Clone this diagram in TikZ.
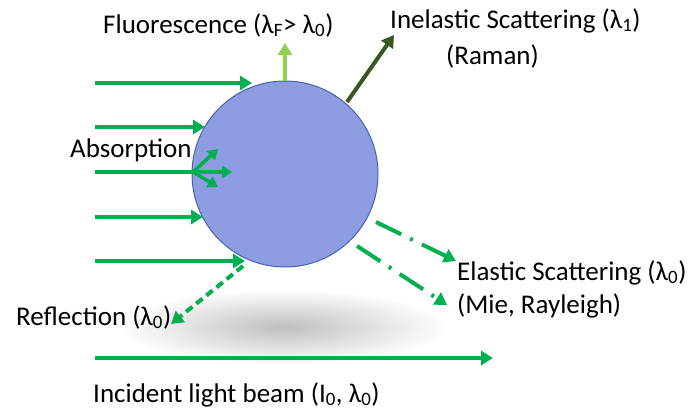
\documentclass[tikz,border=0pt]{standalone}
\usepackage{fontspec}
\setmainfont{Carlito}
\usetikzlibrary{arrows.meta}
\definecolor{beam}{RGB}{0,176,80}
\definecolor{fluo}{RGB}{146,208,80}
\definecolor{raman}{RGB}{56,87,35}
\definecolor{pfill}{RGB}{142,157,225}
\definecolor{pdraw}{RGB}{68,100,170}
\newcommand{\lsub}[1]{\textsubscript{#1}}
\tikzset{
  ray/.style={line width=4pt, -{Triangle[length=12pt,width=14pt]}},
  thinray/.style={line width=3.5pt, -{Triangle[length=10pt,width=12pt]}},
  lbl/.style={anchor=base west, inner sep=0pt, font=\fontsize{27}{32}\selectfont},
  particle/.style={circle, fill=pfill, draw=pdraw, line width=1pt, minimum size=186pt, inner sep=0pt},
  dashdot/.style={dash pattern=on 28pt off 10pt on 3pt off 10pt},
}
\begin{document}
\begin{tikzpicture}[x=1pt,y=-1pt]
\useasboundingbox (0,0) rectangle (691,415);
% shadow
\shade[inner color=black!25, outer color=white] (283,327) ellipse (165 and 38);
% particle
\node[particle] (p) at (285,174) {};
% coordinates
\coordinate (s1) at (95,83);  \coordinate (e1) at (252,83);
\coordinate (s2) at (95,127); \coordinate (e2) at (205,127);
\coordinate (s3) at (95,172); \coordinate (e3) at (193,172);
\coordinate (s4) at (95,217); \coordinate (e4) at (203,217);
\coordinate (s5) at (95,261); \coordinate (e5) at (245,261);
\coordinate (sb) at (95,358); \coordinate (eb) at (493,358);
\coordinate (a1) at (232,172); \coordinate (a2) at (218,149); \coordinate (a3) at (218,187);
\coordinate (f0) at (285,81); \coordinate (f1) at (285,43);
\coordinate (r0) at (347,102); \coordinate (r1) at (394,35);
\coordinate (el0) at (376,222); \coordinate (el1) at (456,261);
\coordinate (em0) at (357,246); \coordinate (em1) at (447,305);
\coordinate (rf0) at (243,266); \coordinate (rf1) at (171,324);
% incident beams
\draw[ray, beam] (s1) -- (e1);
\draw[ray, beam] (s2) -- (e2);
\draw[line width=4pt, beam] (s3) -- (e3);
\draw[ray, beam] (s4) -- (e4);
\draw[ray, beam] (s5) -- (e5);
\draw[ray, beam] (sb) -- (eb);
% absorption
\draw[thinray, beam] (e3) -- (a1);
\draw[thinray, beam] (e3) -- (a2);
\draw[thinray, beam] (e3) -- (a3);
% fluorescence
\draw[ray, fluo] (f0) -- (f1);
% raman
\draw[ray, raman] (r0) -- (r1);
% elastic
\draw[ray, beam, dashdot] (el0) -- (el1);
\draw[ray, beam, dashdot] (em0) -- (em1);
% reflection
\draw[ray, beam, dash pattern=on 8pt off 5pt] (rf0) -- (rf1);
% labels
\node[lbl] (tf) at (103,33) {Fluorescence (λ\lsub{F}> λ\lsub{0})};
\node[lbl] (ti) at (390,28) {Inelastic Scattering (λ\lsub{1})};
\node[lbl] (tr) at (446,64) {(Raman)};
\node[lbl] (ta) at (70,157) {Absorption};
\node[lbl] (te) at (457,280) {Elastic Scattering (λ\lsub{0})};
\node[lbl] (tm) at (457,313) {(Mie, Rayleigh)};
\node[lbl] (tl) at (16,325) {Reflection (λ\lsub{0})};
\node[lbl] (tb) at (93,402) {Incident light beam (I\lsub{0}, λ\lsub{0})};
\end{tikzpicture}
\end{document}
